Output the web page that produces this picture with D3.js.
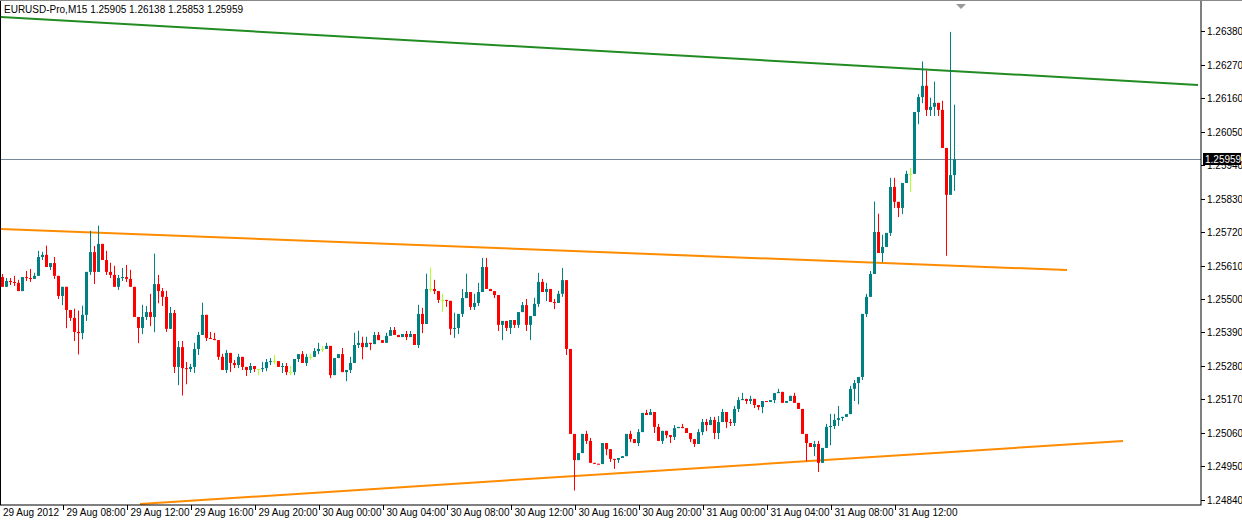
<!DOCTYPE html>
<html>
<head>
<meta charset="utf-8">
<script src="https://cdn.jsdelivr.net/npm/d3@7"></script>
<style>
  body { margin: 0; background: #fff; }
  text { font-family: "Liberation Sans", Arial, sans-serif; font-size: 10px; }
</style>
</head>
<body>
<svg id="chart" width="1242" height="521"></svg>
<script>
// EURUSD M15 closes, one per candle starting 29 Aug 2012 04:00
let closes = [
  1.25540,1.25559,1.25556,1.25553,1.25526,1.25572,1.25569,1.25566,1.25576,1.25638,
  1.25645,1.25605,1.25618,1.25576,1.25510,1.25540,1.25464,1.25438,1.25392,1.25388,
  1.25448,1.25589,1.25654,1.25589,1.25681,1.25628,1.25589,1.25579,1.25540,1.25569,
  1.25572,1.25566,1.25540,1.25441,1.25405,1.25441,1.25457,1.25441,1.25549,1.25526,
  1.25507,1.25402,1.25454,1.25277,1.25342,1.25273,1.25270,1.25277,1.25336,1.25382,
  1.25448,1.25372,1.25369,1.25365,1.25310,1.25267,1.25323,1.25290,1.25283,1.25310,
  1.25277,1.25267,1.25280,1.25270,1.25270,1.25273,1.25293,1.25296,1.25296,1.25277,
  1.25280,1.25260,1.25260,1.25303,1.25319,1.25290,1.25310,1.25310,1.25329,1.25336,
  1.25336,1.25346,1.25250,1.25306,1.25319,1.25260,1.25267,1.25290,1.25349,1.25356,
  1.25342,1.25356,1.25352,1.25382,1.25365,1.25356,1.25379,1.25398,1.25382,1.25375,
  1.25385,1.25375,1.25385,1.25349,1.25451,1.25418,1.25533,1.25533,1.25526,1.25497,
  1.25497,1.25494,1.25402,1.25405,1.25451,1.25503,1.25523,1.25474,1.25487,1.25523,
  1.25605,1.25533,1.25526,1.25513,1.25415,1.25428,1.25405,1.25431,1.25415,1.25457,
  1.25480,1.25415,1.25444,1.25484,1.25556,1.25523,1.25533,1.25490,1.25487,1.25517,
  1.25562,1.25336,1.25057,1.24971,1.24994,1.25057,1.25034,1.24962,1.24959,1.24958,
  1.25027,1.25007,1.24975,1.24972,1.24978,1.24984,1.25057,1.25040,1.25027,1.25063,
  1.25126,1.25119,1.25129,1.25080,1.25034,1.25067,1.25053,1.25047,1.25076,1.25080,
  1.25076,1.25060,1.25040,1.25024,1.25063,1.25096,1.25086,1.25103,1.25060,1.25096,
  1.25129,1.25096,1.25093,1.25139,1.25168,1.25172,1.25165,1.25172,1.25152,1.25145,
  1.25165,1.25162,1.25168,1.25191,1.25195,1.25159,1.25165,1.25182,1.25159,1.25139,
  1.25057,1.25027,1.25014,1.25024,1.24962,1.25011,1.25080,1.25083,1.25103,1.25109,
  1.25113,1.25122,1.25205,1.25224,1.25244,1.25451,1.25507,1.25582,1.25720,1.25651,
  1.25671,1.25717,1.25868,1.25819,1.25799,1.25881,1.25911,1.25911,1.26114,1.26163,
  1.26200,1.26121,1.26131,1.26144,1.26121,1.25996,1.25842,1.25907,1.25959
];
let firstOpen = 1.25572;

// wick lengths above / below the body, in pips
let upWick = [
  1,1,1,2,1,0,2,3,1,2, 1,3,0,2,0,0,0,0,3,7, 3,0,7,2,6,0,3,3,3,1,
  3,4,3,0,0,4,2,6,10,3, 1,2,2,1,2,2,2,1,2,1, 4,0,2,2,0,1,1,0,1,1,
  0,0,1,0,0,2,1,1,2,0, 1,1,2,0,0,1,1,1,1,2, 1,1,0,0,0,2,0,2,4,4,
  2,2,0,1,1,0,1,1,1,0, 0,1,1,0,3,2,5,7,3,0, 2,0,0,5,0,3,6,0,3,3,
  3,3,0,0,0,0,0,0,0,0, 1,2,0,2,3,1,2,0,1,1, 4,0,0,0,0,0,1,1,0,0,
  0,0,0,0,0,0,0,1,0,1, 0,1,1,0,1,0,0,0,1,0, 1,0,0,0,1,1,1,1,1,2,
  1,0,1,1,1,2,0,1,0,0, 0,0,0,0,1,0,0,0,1,0, 0,0,0,1,1,0,1,4,2,4,
  0,0,1,1,0,0,1,1,10,6, 4,0,3,3,0,0,1,2,0,1, 8,5,3,7,0,3,0,47,17.9
];
let downWick = [
  0,0,1,1,0,0,1,1,0,0, 1,0,1,1,1,3,6,1,3,7, 2,2,1,4,0,0,1,1,0,1,
  1,1,0,0,5,2,1,3,5,4, 3,1,0,2,6,9,5,1,2,2, 0,1,0,0,1,0,1,3,1,1,
  1,2,1,1,2,1,1,1,1,0, 2,1,1,1,1,0,1,1,0,1, 1,0,1,0,0,0,3,1,0,1,
  4,0,2,0,0,0,0,0,0,0, 0,1,0,0,1,3,0,1,1,1, 4,2,2,3,2,1,0,1,1,1,
  0,0,0,1,2,5,1,2,1,1, 0,2,5,0,1,0,3,0,2,0, 1,2,0,10,0,0,1,0,0,0,
  0,2,1,3,1,0,0,1,0,1, 0,0,0,2,0,1,1,2,1,0, 0,0,1,1,0,1,2,0,2,2,
  0,2,1,1,1,0,1,1,1,1, 2,0,0,1,0,0,0,0,0,0, 0,6,0,3,3,0,0,6,1,2,
  1,0,0,4,7,1,1,0,0,0, 3,0,1,2,3,2,0,6,0,4, 2,2,2,3,2,0,20,0,5.2
];

let timeLabels = ["29 Aug 08:00","29 Aug 12:00","29 Aug 16:00","29 Aug 20:00",
  "30 Aug 00:00","30 Aug 04:00","30 Aug 08:00","30 Aug 12:00","30 Aug 16:00",
  "30 Aug 20:00","31 Aug 00:00","31 Aug 04:00","31 Aug 08:00","31 Aug 12:00"];
let priceTicks = [1.26380,1.26270,1.26160,1.26050,1.25940,1.25830,1.25720,
  1.25610,1.25500,1.25390,1.25280,1.25170,1.25060,1.24950,1.24840];

// trend lines: [candle index, price] endpoints
let greenLine = [[-0.5, 1.26426], [299, 1.26203]];
let orangeTop = [[-0.5, 1.25730], [266.25, 1.25595]];
let orangeBottom = [[34.5, 1.24827], [280.25, 1.25034]];
let lastPrice = 1.25959;

let candles = closes.map((c, i) => {
  let o = i == 0 ? firstOpen : closes[i - 1];
  return {
    i: i, o: o, c: c,
    h: Math.max(o, c) + upWick[i] * 0.0001,
    l: Math.min(o, c) - downWick[i] * 0.0001
  };
});

let svg = d3.select("#chart");
let plotW = 1201, plotH = 505;
let x = d3.scaleLinear().domain([0, 299]).range([2, 1198]);
let y = d3.scaleLinear().domain([1.2484, 1.2638]).range([500, 31]);

let plot = svg.append("g");
plot.append("defs").append("clipPath").attr("id", "clip")
  .append("rect").attr("x", 1).attr("y", 1).attr("width", plotW - 1).attr("height", plotH - 1);
let inner = plot.append("g").attr("clip-path", "url(#clip)");

// current price line
inner.append("line")
  .attr("x1", 0).attr("x2", plotW)
  .attr("y1", Math.round(y(lastPrice)) + 0.5).attr("y2", Math.round(y(lastPrice)) + 0.5)
  .attr("stroke", "#778899");

let line = d3.line().x(d => x(d[0])).y(d => y(d[1]));
[[greenLine, "#228b22"], [orangeTop, "#ff8c00"], [orangeBottom, "#ff8c00"]].forEach(([pts, col]) => {
  inner.append("path").attr("d", line(pts)).attr("stroke", col)
    .attr("stroke-width", 2).attr("fill", "none");
});

function candleColor(d) {
  if (d.c == d.o) return "#adff2f";
  return d.c > d.o ? "#008080" : "#ff0000";
}

let g = inner.selectAll(".candle").data(candles).enter().append("g");
g.append("line")
  .attr("x1", d => x(d.i) + 0.5).attr("x2", d => x(d.i) + 0.5)
  .attr("y1", d => y(d.h)).attr("y2", d => y(d.l))
  .attr("stroke", candleColor).attr("stroke-width", 1);
g.append("rect")
  .attr("x", d => x(d.i) - 1)
  .attr("width", 3)
  .attr("y", d => y(Math.max(d.o, d.c)))
  .attr("height", d => Math.max(1, Math.abs(y(d.o) - y(d.c))))
  .attr("fill", candleColor);

// frame
svg.append("rect").attr("x", 0.5).attr("y", 0.5).attr("width", plotW - 0.5).attr("height", plotH - 0.5)
  .attr("fill", "none").attr("stroke", "#000");
svg.append("line").attr("x1", 0).attr("x2", 1242).attr("y1", 0.5).attr("y2", 0.5).attr("stroke", "#888");

// price axis
priceTicks.forEach(p => {
  let yy = Math.round(y(p)) + 0.5;
  svg.append("line").attr("x1", plotW).attr("x2", plotW + 4).attr("y1", yy).attr("y2", yy).attr("stroke", "#000");
  svg.append("text").attr("x", 1207).attr("y", yy + 3.5).text(p.toFixed(5));
});
let ly = Math.round(y(lastPrice));
svg.append("rect").attr("x", 1203).attr("y", ly - 6).attr("width", 38).attr("height", 12).attr("fill", "#000");
svg.append("text").attr("x", 1205).attr("y", ly + 4).attr("fill", "#fff").text(lastPrice.toFixed(5));

// time axis
svg.append("text").attr("x", 3).attr("y", 516).text("29 Aug 2012");
timeLabels.forEach((t, j) => {
  let xx = Math.round(x(16 * (j + 1))) - 2.5;
  svg.append("line").attr("x1", xx).attr("x2", xx).attr("y1", plotH).attr("y2", plotH + 5).attr("stroke", "#000");
  svg.append("text").attr("x", xx + 3).attr("y", 516).text(t);
});

// title and marker
svg.append("text").attr("x", 4).attr("y", 13).text("EURUSD-Pro,M15  1.25905 1.26138 1.25853 1.25959");
svg.append("path").attr("d", "M956,4 L966,4 L961,9 Z").attr("fill", "#999");
</script>
</body>
</html>
